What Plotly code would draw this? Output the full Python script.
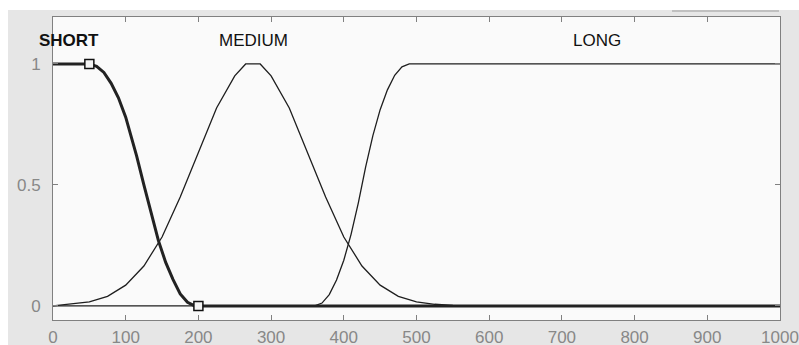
import plotly.graph_objects as go

# --- data ---
short_x = [0, 50, 60, 70, 80, 90, 100, 110, 115, 125, 135, 145, 155, 165, 175, 185, 195, 200, 1000]
short_y = [1, 1, 0.99, 0.965, 0.92, 0.86, 0.78, 0.68, 0.62, 0.5, 0.38, 0.27, 0.18, 0.11, 0.05, 0.015, 0.0, 0.0, 0.0]

medium_x = [0, 25, 50, 75, 100, 125, 150, 175, 200, 225, 250, 265, 285, 300, 325, 350, 375, 400, 425, 450, 475, 500, 525, 550, 600, 1000]
medium_y = [0.0, 0.007, 0.017, 0.04, 0.086, 0.165, 0.285, 0.45, 0.637, 0.818, 0.951, 1.0, 1.0, 0.951, 0.818, 0.637, 0.45, 0.285, 0.165, 0.086, 0.04, 0.017, 0.007, 0.002, 0.0, 0.0]

long_x = [0, 360, 370, 380, 390, 400, 410, 420, 430, 440, 450, 460, 470, 480, 490, 1000]
long_y = [0, 0, 0.012, 0.047, 0.107, 0.189, 0.296, 0.426, 0.574, 0.704, 0.811, 0.893, 0.953, 0.988, 1, 1]

marker_x = [50, 200]
marker_y = [1, 0]

labels = ["SHORT", "MEDIUM", "LONG"]
label_x = [22, 276, 748]
label_y = 1.095

x_ticks = [0, 100, 200, 300, 400, 500, 600, 700, 800, 900, 1000]
y_ticks = [0, 0.5, 1]
y_ticktext = ["0", "0.5", "1"]

FONT = "Liberation Sans, Arial, sans-serif"
LINE = "#1e1e1e"
AXC = "#808080"

fig = go.Figure()
fig.add_trace(go.Scatter(x=medium_x, y=medium_y, mode="lines",
                         line=dict(color=LINE, width=1.3), hoverinfo="skip"))
fig.add_trace(go.Scatter(x=long_x, y=long_y, mode="lines",
                         line=dict(color=LINE, width=1.3), hoverinfo="skip"))
fig.add_trace(go.Scatter(x=short_x, y=short_y, mode="lines",
                         line=dict(color="#222222", width=3), hoverinfo="skip"))
fig.add_trace(go.Scatter(x=marker_x, y=marker_y, mode="markers",
                         marker=dict(symbol="square", size=9, color="#f4f4f4",
                                     line=dict(color="#111111", width=1.5)),
                         hoverinfo="skip"))

for i, (t, lx) in enumerate(zip(labels, label_x)):
    fig.add_annotation(x=lx, y=label_y, xref="x", yref="y", text=(f"<b>{t}</b>" if i == 0 else t),
                       showarrow=False, font=dict(family=FONT, size=17, color="#111111"))

# white border strips (top and left) over gray panel, plus top-right line
fig.add_shape(type="rect", xref="paper", yref="paper", x0=-0.2, x1=1.2,
              y0=(320 - 10) / 303, y1=1.2, fillcolor="white", line=dict(width=0), layer="below")
fig.add_shape(type="rect", xref="paper", yref="paper", x0=-0.2, x1=(8 - 53) / 727,
              y0=-0.2, y1=1.2, fillcolor="white", line=dict(width=0), layer="below")
fig.add_shape(type="line", xref="paper", yref="paper", x0=(672 - 53) / 727, x1=(779 - 53) / 727,
              y0=(320 - 11) / 303, y1=(320 - 11) / 303, line=dict(color="#9a9a9a", width=1))

fig.update_layout(
    width=799, height=345,
    margin=dict(l=53, r=19, t=17, b=25, autoexpand=False),
    paper_bgcolor="#e6e6e6",
    plot_bgcolor="#fafafa",
    showlegend=False,
    font=dict(family=FONT, size=17, color=AXC),
)
fig.update_xaxes(range=[0, 1000], tickvals=x_ticks, ticks="inside", ticklen=5, tickcolor=AXC,
                 showline=True, linecolor=AXC, linewidth=1, mirror="ticks", automargin=False,
                 showgrid=False, zeroline=False, ticklabelstandoff=2,
                 tickfont=dict(family=FONT, size=17, color="#888888"))
fig.update_yaxes(range=[-0.058, 1.194], tickvals=y_ticks, ticktext=y_ticktext, ticks="inside",
                 ticklen=5, tickcolor=AXC, showline=True, linecolor=AXC, linewidth=1,
                 mirror="ticks", showgrid=False, zeroline=False, ticklabelstandoff=8,
                 automargin=False,
                 tickfont=dict(family=FONT, size=17, color="#888888"))

fig.write_html("out.html")
